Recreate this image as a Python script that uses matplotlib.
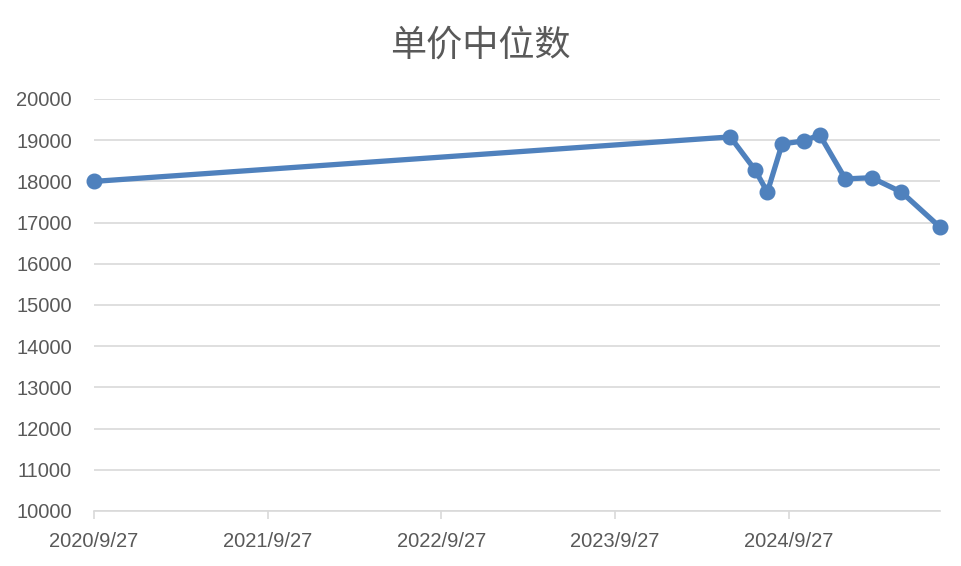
import numpy as np
import matplotlib.pyplot as plt
import matplotlib.dates as mdates
from datetime import datetime

plt.rcParams['font.family'] = ['Liberation Sans', 'Noto Sans CJK SC', 'DejaVu Sans']

# data
dates = ["2020/9/27", "2024/5/27", "2024/7/18", "2024/8/13", "2024/9/13",
         "2024/10/28", "2024/12/1", "2025/1/24", "2025/3/20", "2025/5/22",
         "2025/8/11"]
prices = [18000, 19080, 18280, 17740, 18910, 18980, 19130, 18060, 18090,
          17740, 16890]
tick_dates = ["2020/9/27", "2021/9/27", "2022/9/27", "2023/9/27", "2024/9/27"]
y_ticks = list(range(10000, 20001, 1000))

x = [datetime.strptime(d, "%Y/%m/%d") for d in dates]
xt = [datetime.strptime(d, "%Y/%m/%d") for d in tick_dates]

grey = "#595959"
blue = "#4f81bd"

fig = plt.figure(figsize=(9.61, 5.66), dpi=100)
ax = fig.add_axes([94 / 961, 1 - 511 / 566, (940 - 94) / 961, (511 - 99) / 566])

ax.plot(x, prices, color=blue, linewidth=3.8, marker="o", markersize=10.5,
        clip_on=False, zorder=3)

ax.set_ylim(10000, 20000)
ax.set_yticks(y_ticks)
ax.set_xlim(x[0], x[-1])
ax.set_xticks(xt)
ax.set_xticklabels(tick_dates)
ax.grid(axis="y", color="#d9d9d9", linewidth=1.2)
ax.set_axisbelow(True)

for s in ["top", "right", "left"]:
    ax.spines[s].set_visible(False)
ax.spines["bottom"].set_color("#d9d9d9")
ax.spines["bottom"].set_linewidth(1.2)

ax.tick_params(axis="y", length=0, pad=16, labelsize=14.5, labelcolor=grey)
ax.tick_params(axis="x", length=6, color="#d9d9d9", width=1.2, pad=9,
               labelsize=14.5, labelcolor=grey)

fig.text(0.5, 1 - 46 / 566, "单价中位数", ha="center", va="center",
         fontsize=26, color=grey, fontweight="light",
         family=['Noto Sans CJK SC', 'DejaVu Sans'])

fig.savefig("out.png", dpi=100)
